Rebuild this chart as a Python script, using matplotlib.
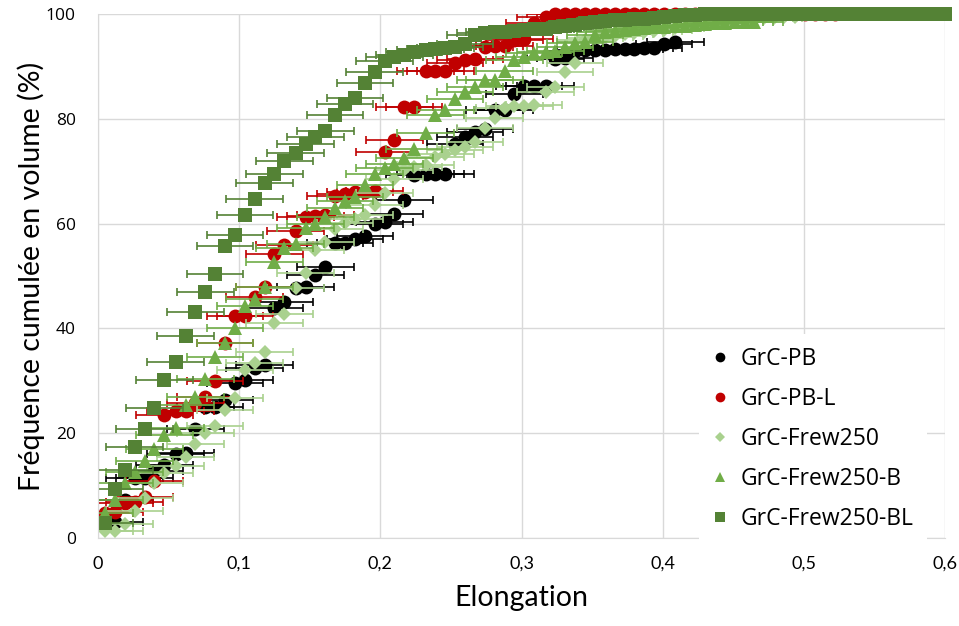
import matplotlib.pyplot as plt
import numpy as np

nan = np.nan

# elongation classes (x positions of the points)
elong = [0.005, 0.012, 0.019, 0.026, 0.033, 0.040, 0.047, 0.055, 0.062, 0.069,
         0.076, 0.083, 0.090, 0.097, 0.104, 0.111, 0.118, 0.125, 0.132, 0.140,
         0.147, 0.154, 0.161, 0.168, 0.175, 0.182, 0.189, 0.196, 0.203, 0.210,
         0.217, 0.224, 0.232, 0.239, 0.246, 0.253, 0.260, 0.267, 0.274, 0.281,
         0.288, 0.295, 0.302, 0.309, 0.317, 0.324, 0.331, 0.338, 0.345, 0.352,
         0.359, 0.366, 0.373, 0.380, 0.387, 0.394, 0.401, 0.409, 0.416, 0.423,
         0.430, 0.437, 0.444, 0.451, 0.458, 0.465, 0.472, 0.479, 0.486, 0.494,
         0.501, 0.508, 0.515, 0.522, 0.529, 0.536, 0.543, 0.550, 0.557, 0.564,
         0.571, 0.579, 0.586, 0.593, 0.600]

# cumulative volume frequency (%)
grc_pb = [nan, 3.0, 7.2, 11.4, 11.4, 12.8, 13.9, 16.0, 16.2, 20.8,
          25.0, 25.0, 26.3, 29.6, 30.2, 32.4, 33.0, 43.9, 45.1, 47.7,
          47.9, 50.2, 51.7, 56.3, 56.3, 57.1, 57.6, 59.9, 60.3, 61.8,
          64.5, 69.3, 69.5, 69.5, 69.5, 75.2, 76.5, 77.5, 78.0, 81.7,
          81.7, 84.7, 86.3, 86.3, 86.3, 91.4, 91.6, 93.0, 93.1, 93.2,
          93.2, 93.3, 93.3, 93.4, 93.5, 93.6, 94.3, 94.7]

grc_pb_l = [4.8, 5.0, 6.7, 6.9, 7.8, 10.9, 23.5, 24.2, 24.2, 25.8,
            26.9, 30.0, 37.2, 42.4, 42.4, 46.0, 47.9, 54.2, 55.9, 58.6,
            61.3, 61.5, 61.6, 65.3, 65.6, 66.0, 66.0, 66.2, 73.7, 76.0,
            82.2, 82.2, 89.1, 89.1, 89.1, 90.6, 91.2, 91.4, 93.7, 93.9,
            93.9, 95.0, 95.2, 98.3, 99.4, 100, 100, 100, 100, 100,
            100, 100, 100, 100, 100, 100, 100, 100, 100, 100,
            100, 100, 100, 100, 100, 100, 100, 100, 100, 100,
            100, 100, 100, 100]

grc_frew250 = [1.3, 1.3, 2.7, 5.2, 7.6, 10.5, 12.4, 13.7, 15.5, 17.9,
               20.0, 21.4, 24.4, 26.7, 32.1, 33.4, 35.5, 41.0, 42.7, 47.7,
               50.6, 55.0, 56.5, 59.0, 60.1, 60.9, 61.6, 63.5, 65.8, 68.5,
               70.2, 70.8, 71.2, 72.7, 73.3, 74.0, 74.6, 75.6, 78.2, 80.2,
               82.1, 82.4, 82.5, 82.6, 85.1, 86.0, 88.9, 90.6, 95.0, 95.5,
               95.7, 95.9, 96.1, 96.3, 96.5, 96.7, 97.0, 97.3, 97.9, 98.3,
               98.6, 98.7, 98.8, 98.9, 99.0, 99.1, 99.2, 99.3, 99.4, 99.5]

grc_frew250_b = [4.8, 7.3, 10.5, 12.6, 14.7, 17.0, 19.7, 21.0, 25.4, 26.9,
                 30.3, 34.5, 37.2, 40.1, 44.3, 45.6, 47.9, 52.7, 55.3, 56.1,
                 59.2, 59.9, 61.3, 63.0, 64.3, 65.0, 67.4, 69.5, 70.6, 71.4,
                 72.5, 74.2, 77.3, 80.7, 81.7, 83.8, 85.1, 86.1, 87.4, 87.4,
                 89.1, 91.2, 91.8, 92.6, 92.7, 93.0, 93.7, 94.5, 94.7, 96.0,
                 96.5, 96.8, 97.0, 97.2, 97.4, 97.5, 97.6, 97.7, 97.8, 98.0,
                 98.1, 98.2, 98.3, 98.4, 98.5, 98.5]

grc_frew250_bl = [2.9, 9.3, 13.0, 17.4, 20.8, 24.8, 30.2, 33.6, 38.5, 43.1,
                  47.0, 50.4, 55.7, 57.8, 61.6, 64.7, 67.7, 69.5, 71.9, 73.5,
                  75.2, 76.5, 77.7, 80.7, 82.8, 84.0, 86.8, 88.9, 91.0, 91.8,
                  92.2, 92.7, 93.1, 93.3, 93.5, 93.7, 94.3, 96.0, 96.4, 96.6,
                  96.6, 96.8, 96.9, 97.1, 97.1, 97.5, 97.8, 98.0, 98.2, 98.4,
                  98.6, 98.8, 98.9, 99.0, 99.1, 99.2, 99.4, 99.6, 99.8, 99.9,
                  100, 100, 100, 100, 100, 100, 100, 100, 100, 100,
                  100, 100, 100, 100, 100, 100, 100, 100, 100, 100,
                  100, 100, 100, 100, 100]

# horizontal error (elongation) for every series
x_err = 0.02

series = [
    ("GrC-PB", grc_pb, "o", 10, "#000000"),
    ("GrC-PB-L", grc_pb_l, "o", 10, "#C00000"),
    ("GrC-Frew250", grc_frew250, "D", 7, "#A9D18E"),
    ("GrC-Frew250-B", grc_frew250_b, "^", 9.5, "#70AD47"),
    ("GrC-Frew250-BL", grc_frew250_bl, "s", 9.6, "#548235"),
]

fig = plt.figure(figsize=(9.59, 6.26), dpi=100)
ax = fig.add_axes([0.1022, 0.1406, 0.8832, 0.837])

handles = []
for name, vals, mk, ms, col in series:
    xs = elong[:len(vals)]
    ax.errorbar(xs, vals, xerr=x_err, fmt="none", ecolor=col,
                elinewidth=1.2, capsize=3, capthick=1.2)
    h, = ax.plot(xs, vals, linestyle="none", marker=mk, markersize=ms,
                 color=col, markeredgewidth=0, clip_on=False, label=name)
    handles.append(h)

ax.set_xlim(0, 0.6)
ax.set_ylim(0, 100)
ax.set_xticks([0, 0.1, 0.2, 0.3, 0.4, 0.5, 0.6])
ax.set_xticklabels(["0", "0,1", "0,2", "0,3", "0,4", "0,5", "0,6"],
                   family="Lato", fontsize=13)
ax.set_yticks([0, 20, 40, 60, 80, 100])
ax.set_yticklabels(["0", "20", "40", "60", "80", "100"],
                   family="Open Sans", fontsize=12.5)
ax.tick_params(length=0)
ax.tick_params(axis="x", pad=13)
ax.tick_params(axis="y", pad=16)

ax.grid(True, color="#D9D9D9", linewidth=1)
ax.set_axisbelow(True)
for s in ["top", "right"]:
    ax.spines[s].set_visible(False)
for s in ["left", "bottom"]:
    ax.spines[s].set_color("#D9D9D9")

ax.set_xlabel("Elongation", family="Lato", fontsize=20.5, labelpad=9)
ax.set_ylabel("Fréquence cumulée en volume (%)", family="Lato", fontsize=20.5)
ax.yaxis.set_label_coords(-0.062, 0.5)

leg = ax.legend(handles=handles, loc="center left",
                bbox_to_anchor=(0.71, 0.189), frameon=True,
                prop={"family": "Open Sans", "size": 16.5},
                labelspacing=0.69, handlelength=0.6, handletextpad=0.6,
                markerscale=0.7, borderaxespad=0, borderpad=0.6)
leg.get_frame().set_edgecolor("none")
leg.get_frame().set_facecolor("white")
leg.get_frame().set_alpha(1)
leg.set_zorder(5)

plt.savefig("out.png", dpi=100)
